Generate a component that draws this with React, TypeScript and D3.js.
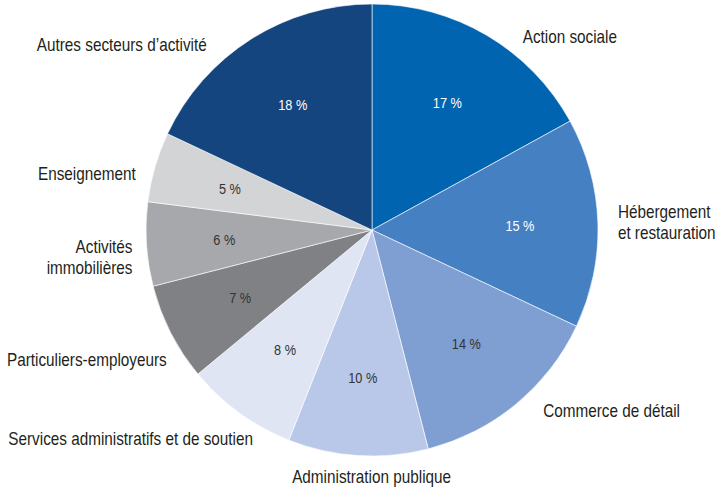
import React, { useEffect, useRef } from 'react';
import * as d3 from 'd3';

// sectors, clockwise from 12 o'clock
const sectors = [
  'Action sociale',
  'Hébergement\net restauration',
  'Commerce de détail',
  'Administration publique',
  'Services administratifs et de soutien',
  'Particuliers-employeurs',
  'Activités\nimmobilières',
  'Enseignement',
  'Autres secteurs d’activité',
];
const shares = [17, 15, 14, 10, 8, 7, 6, 5, 18];
const sliceColors = [
  '#0064b0', '#4580c2', '#7f9fd3', '#b9c8e8', '#e0e5f4',
  '#808184', '#a7a8ab', '#d3d4d6', '#14457f',
];
const darkSlices = [true, true, false, false, false, false, false, false, true];

// label nudges (dx, dy) relative to the label arc, and text anchor
const labelNudge: [number, number, string][] = [
  [26, 18, 'start'],
  [1, 0, 'start'],
  [15, -8, 'start'],
  [15, 2, 'middle'],
  [25, 10, 'end'],
  [13, 18, 'end'],
  [5, 12, 'end'],
  [-1, 12, 'end'],
  [-34, 22, 'end'],
];

// no narrow font installed, so squeeze Liberation Sans horizontally
const FONT = '"Liberation Sans", Arial, sans-serif';
const SQUEEZE = 0.85;

type Slice = { name: string; value: number; idx: number };

export default function App() {
  const svgRef = useRef<SVGSVGElement | null>(null);

  useEffect(() => {
    const width = 718;
    const height = 490;
    const cx = 372;
    const cy = 230;
    const radius = 226;

    const svg = d3.select(svgRef.current);
    svg.selectAll('*').remove();
    svg.attr('width', width).attr('height', height);

    const data: Slice[] = sectors.map((name, idx) => ({ name, value: shares[idx], idx }));

    const pie = d3.pie<Slice>().sort(null).value(d => d.value);
    const arcs = pie(data);

    const arc = d3.arc<d3.PieArcDatum<Slice>>().innerRadius(0).outerRadius(radius);
    const innerLabelArc = d3.arc<d3.PieArcDatum<Slice>>().innerRadius(148).outerRadius(148);
    const outerLabelArc = d3.arc<d3.PieArcDatum<Slice>>().innerRadius(245).outerRadius(245);

    const g = svg.append('g').attr('transform', `translate(${cx},${cy})`);

    g.selectAll('.slice')
      .data(arcs)
      .enter()
      .append('path')
      .attr('class', 'slice')
      .attr('d', arc)
      .attr('fill', d => sliceColors[d.data.idx])
      .attr('stroke', '#ffffff')
      .attr('stroke-width', 0.6);

    // percentages inside slices
    g.selectAll('.pct')
      .data(arcs)
      .enter()
      .append('text')
      .attr('class', 'pct')
      .attr('transform', d => `translate(${innerLabelArc.centroid(d)}) scale(${SQUEEZE},1)`)
      .attr('text-anchor', 'middle')
      .attr('dominant-baseline', 'central')
      .attr('font-family', FONT)
      .attr('font-size', 15)
      .attr('fill', d => (darkSlices[d.data.idx] ? '#ffffff' : '#333333'))
      .text(d => `${d.data.value} %`);

    // sector names around the pie
    const labels = g.selectAll('.lbl')
      .data(arcs)
      .enter()
      .append('text')
      .attr('class', 'lbl')
      .attr('transform', d => {
        const [x, y] = outerLabelArc.centroid(d);
        const [dx, dy] = labelNudge[d.data.idx];
        return `translate(${x + dx},${y + dy}) scale(${SQUEEZE},1)`;
      })
      .attr('text-anchor', d => labelNudge[d.data.idx][2])
      .attr('font-family', FONT)
      .attr('font-size', 18)
      .attr('fill', '#231f20');

    labels.each(function (d) {
      const lines = d.data.name.split('\n');
      const t = d3.select(this);
      lines.forEach((line, i) => {
        t.append('tspan')
          .attr('x', 0)
          .attr('dy', i === 0 ? `${0.35 - (lines.length - 1) * 0.58}em` : '1.16em')
          .text(line);
      });
    });
  }, []);

  return (
    <svg ref={svgRef} style={{ position: 'absolute', left: 0, top: 0, display: 'block' }} />
  );
}
